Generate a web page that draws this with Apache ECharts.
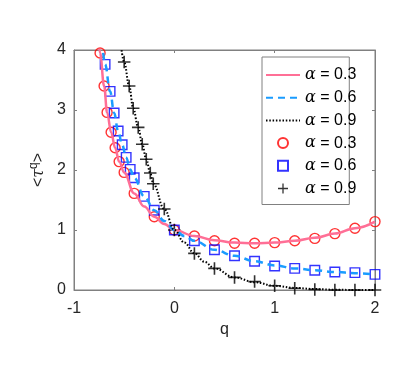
<!DOCTYPE html>
<html>
<head>
<meta charset="utf-8">
<script src="https://cdn.jsdelivr.net/npm/echarts@6/dist/echarts.min.js"></script>
<style>
html,body{margin:0;padding:0;background:#fff;}
#main{width:407px;height:366px;}
</style>
</head>
<body>
<div id="main"></div>
<script>
// markers (simulation)
var markQ03 = [-0.74,-0.70,-0.67,-0.63,-0.59,-0.55,-0.50,-0.40,-0.20,0,0.2,0.4,0.6,0.8,1.0,1.2,1.4,1.6,1.8,2.0];
var markV03 = [3.95,3.40,2.96,2.63,2.37,2.14,1.96,1.61,1.22,1.00,0.90,0.82,0.78,0.78,0.79,0.82,0.86,0.94,1.03,1.14];
var markQ06 = [-0.69,-0.64,-0.60,-0.56,-0.52,-0.48,-0.44,-0.40,-0.30,-0.20,0,0.2,0.4,0.6,0.8,1.0,1.2,1.4,1.6,1.8,2.0];
var markV06 = [3.76,3.31,2.95,2.65,2.42,2.21,2.01,1.87,1.56,1.33,1.00,0.82,0.67,0.57,0.48,0.40,0.36,0.33,0.30,0.29,0.26];
var markQ09 = [-0.50,-0.45,-0.41,-0.36,-0.32,-0.28,-0.24,-0.21,-0.10,0,0.2,0.4,0.6,0.8,1.0,1.2,1.4,1.6,1.8,2.0];
var markV09 = [3.80,3.40,3.03,2.71,2.43,2.18,1.95,1.77,1.35,1.00,0.61,0.36,0.21,0.14,0.07,0.03,0.01,0.00,0.00,0.00];

// curves (theory)
var lineQ03 = [-0.757,-0.74,-0.70,-0.67,-0.63,-0.59,-0.55,-0.50,-0.40,-0.30,-0.20,-0.10,0,0.2,0.4,0.6,0.8,1.0,1.2,1.4,1.6,1.8,2.0];
var lineV03 = [4.2,3.95,3.40,2.96,2.63,2.37,2.14,1.96,1.61,1.39,1.22,1.10,1.00,0.90,0.83,0.79,0.78,0.79,0.82,0.87,0.94,1.03,1.14];
var lineQ06 = [-0.72,-0.69,-0.64,-0.60,-0.56,-0.52,-0.48,-0.44,-0.40,-0.30,-0.20,-0.10,0,0.1,0.2,0.4,0.6,0.8,1.0,1.2,1.4,1.6,1.8,2.0];
var lineV06 = [4.15,3.76,3.31,2.95,2.65,2.42,2.21,2.01,1.87,1.56,1.33,1.15,1.00,0.90,0.82,0.67,0.57,0.48,0.41,0.36,0.33,0.30,0.28,0.26];
var lineQ09 = [-0.53,-0.50,-0.45,-0.41,-0.36,-0.32,-0.28,-0.24,-0.21,-0.10,0,0.1,0.2,0.3,0.4,0.6,0.8,1.0,1.2,1.4,1.6,1.8,2.0];
var lineV09 = [4.05,3.80,3.40,3.03,2.71,2.43,2.18,1.95,1.77,1.35,1.00,0.79,0.61,0.47,0.36,0.21,0.13,0.07,0.035,0.015,0.005,0.0,0.0];

var alphas = ['0.3','0.6','0.9'];
var xTicks = [-1,0,1,2];
var yTicks = [0,1,2,3,4];

var axisGray = '#808080';
var textGray = '#262626';
var font = 'Liberation Sans';

function zip(a, b){
    var out = [];
    for(var i=0;i<a.length;i++){ out.push([a[i], b[i]]); }
    return out;
}

// '+' marker as thin filled cross, square as outline path
var plusPath = 'path://M4.35,0h1.3v4.35h4.35v1.3h-4.35v4.35h-1.3v-4.35h-4.35v-1.3h4.35z';
var squarePath = 'path://M0,0H10V10H0Z';

var lineNames = alphas.map(function(a){ return 'line ' + a; });
var markNames = alphas.map(function(a){ return 'mark ' + a; });

var legendData = lineNames.map(function(n){
    return {name: n, itemStyle: {opacity: 0}};
}).concat(markNames.map(function(n){ return {name: n}; }));

var myChart = echarts.init(document.getElementById('main'), null, {renderer:'canvas'});

var option = {
    backgroundColor: '#fff',
    animation: false,
    grid: {left:74, right:32, top:50, bottom:76, show:true, borderColor:axisGray, borderWidth:1},
    legend: {
        orient: 'vertical',
        left: 262, top: 57,
        padding: [10, -7, 8, 3],
        itemWidth: 34, itemHeight: 10, itemGap: 6.7,
        symbolKeepAspect: true,
        borderColor: axisGray, borderWidth: 1, borderRadius: 0,
        backgroundColor: '#fff',
        data: legendData,
        formatter: function(name){
            var a = name.split(' ')[1];
            return '{a|α} = ' + a;
        },
        textStyle: {
            fontFamily: font, fontSize: 16, color: '#000', lineHeight: 16,
            rich: {a: {fontFamily:'DejaVu Serif', fontStyle:'italic', fontSize:16, lineHeight:16, color:'#000'}}
        }
    },
    xAxis: [{
        type: 'value', min: -1, max: 2, interval: 1,
        name: 'q', nameLocation: 'middle', nameGap: 25,
        nameTextStyle: {fontFamily: font, fontSize: 16, color: textGray},
        axisLine: {onZero: false, lineStyle: {color: axisGray}},
        axisTick: {inside: true, length: 3, lineStyle: {color: axisGray}},
        axisLabel: {fontFamily: font, fontSize: 16, color: textGray, margin: 11,
            formatter: function(v){ return xTicks.indexOf(v) >= 0 ? String(v) : ''; }},
        splitLine: {show: false}
    },{
        type: 'value', min: -1, max: 2, interval: 1, position: 'top',
        axisLine: {onZero: false, lineStyle: {color: axisGray}},
        axisTick: {inside: true, length: 3, lineStyle: {color: axisGray}},
        axisLabel: {show: false}, splitLine: {show: false}
    }],
    yAxis: [{
        type: 'value', min: 0, max: 4, interval: 1,
        name: '<{t|τ}{s|q}>', nameLocation: 'middle', nameGap: 24, nameMoveOverlap: false,
        nameTextStyle: {fontFamily: font, fontSize: 16, color: textGray,
            rich: {
                t: {fontFamily:'DejaVu Serif', fontStyle:'italic', fontSize:16, color:textGray},
                s: {fontFamily: font, fontSize: 12, color: textGray, padding: [0,0,10,0]}
            }},
        axisLine: {show: true, onZero: false, lineStyle: {color: axisGray}},
        axisTick: {show: true, inside: true, length: 3, lineStyle: {color: axisGray}},
        axisLabel: {fontFamily: font, fontSize: 16, color: textGray, margin: 8,
            formatter: function(v){ return yTicks.indexOf(v) >= 0 ? String(v) : ''; }},
        splitLine: {show: false}
    },{
        type: 'value', min: 0, max: 4, interval: 1, position: 'right',
        axisLine: {show: true, onZero: false, lineStyle: {color: axisGray}},
        axisTick: {show: true, inside: true, length: 3, lineStyle: {color: axisGray}},
        axisLabel: {show: false}, splitLine: {show: false}
    }],
    series: [
        {name: lineNames[0], type: 'line', data: zip(lineQ03, lineV03), showSymbol: false, symbol: 'none',
            smooth: 0.4, smoothMonotone: 'x', clip: true,
            lineStyle: {color: '#ff6f96', width: 2.5, type: 'solid'}, itemStyle: {color: '#ff6f96'}},
        {name: lineNames[1], type: 'line', data: zip(lineQ06, lineV06), showSymbol: false, symbol: 'none',
            smooth: 0.4, smoothMonotone: 'x', clip: true,
            lineStyle: {color: '#1a9cff', width: 2.5, type: [7, 5]}, itemStyle: {color: '#1a9cff'}},
        {name: lineNames[2], type: 'line', data: zip(lineQ09, lineV09), showSymbol: false, symbol: 'none',
            smooth: 0.4, smoothMonotone: 'x', clip: true,
            lineStyle: {color: '#000', width: 2, type: [1.5, 1.8]}, itemStyle: {color: '#000'}},
        {name: markNames[0], type: 'scatter', data: zip(markQ03, markV03), symbol: 'circle', symbolSize: 10,
            itemStyle: {color: 'rgba(255,255,255,0)', borderColor: '#ff0000', borderWidth: 1.4}},
        {name: markNames[1], type: 'scatter', data: zip(markQ06, markV06), symbol: squarePath, symbolSize: 9.5,
            symbolKeepAspect: true,
            itemStyle: {color: 'rgba(255,255,255,0)', borderColor: '#0000ff', borderWidth: 1.4}},
        {name: markNames[2], type: 'scatter', data: zip(markQ09, markV09), symbol: plusPath, symbolSize: 12.5,
            symbolKeepAspect: true,
            itemStyle: {color: '#000'}}
    ]
};

myChart.setOption(option);
</script>
</body>
</html>
